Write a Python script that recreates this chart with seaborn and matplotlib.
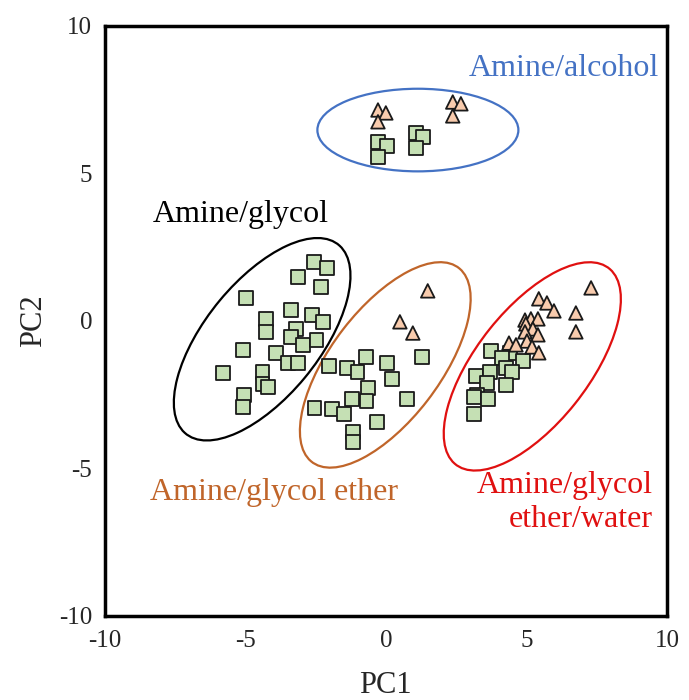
import numpy as np
import pandas as pd
import matplotlib
matplotlib.use("Agg")
import matplotlib.pyplot as plt
from matplotlib.patches import Ellipse
import seaborn as sns

# Squares / triangles (PC1, PC2), grouped by cluster
alcohol_sq_x = [-0.28, 0.04, -0.28, 1.07, 1.32, 1.07]
alcohol_sq_y = [6.07, 5.93, 5.56, 6.37, 6.24, 5.86]
alcohol_tri_x = [-0.28, 0.0, -0.28, 2.38, 2.67, 2.38]
alcohol_tri_y = [7.15, 7.05, 6.75, 7.42, 7.36, 6.95]

glycol_sq_x = [-2.56, -2.10, -3.13, -2.31, -4.98, -3.38, -2.63, -2.24, -4.27, -4.27, -3.20, -3.38,
               -2.95, -2.46, -5.09, -3.91, -3.49, -3.13, -5.80, -4.38, -4.38, -4.20, -5.05, -5.09]
glycol_sq_y = [2.00, 1.80, 1.49, 1.15, 0.78, 0.37, 0.20, -0.03, 0.07, -0.37, -0.27, -0.54,
               -0.81, -0.64, -0.98, -1.08, -1.42, -1.42, -1.76, -1.73, -2.14, -2.24, -2.51, -2.92]

ether_sq_x = [1.28, -0.71, 0.04, -2.03, -1.39, -1.00, 0.21, -0.64, -1.21, -0.68, 0.75, -2.53,
              -1.92, -1.49, -0.32, -1.17, -1.17]
ether_sq_y = [-1.22, -1.22, -1.42, -1.53, -1.59, -1.73, -1.97, -2.27, -2.64, -2.71, -2.64, -2.95,
              -2.98, -3.15, -3.42, -3.76, -4.10]
ether_tri_x = [1.49, 0.50, 0.96]
ether_tri_y = [1.02, -0.03, -0.41]

water_sq_x = [3.74, 4.41, 4.13, 4.88, 4.27, 4.48, 3.20, 3.70, 3.59, 4.27, 3.24, 3.13, 3.63, 3.13]
water_sq_y = [-1.02, -1.08, -1.25, -1.36, -1.59, -1.73, -1.86, -1.73, -2.10, -2.17, -2.51, -2.58,
              -2.64, -3.15]
water_tri_x = [7.30, 5.44, 5.73, 5.98, 6.76, 6.76, 4.95, 5.16, 5.41, 4.98, 5.23, 5.41, 4.95, 5.02,
               4.38, 4.63, 5.20, 5.44]
water_tri_y = [1.12, 0.75, 0.61, 0.34, 0.27, -0.37, 0.03, 0.07, 0.07, -0.10, -0.27, -0.47, -0.37,
               -0.68, -0.75, -0.81, -0.88, -1.08]

groups = ["Amine/alcohol", "Amine/glycol", "Amine/glycol ether", "Amine/glycol\nether/water"]
group_colors = ["#4472C4", "black", "#C0652A", "#E01010"]

sq_x = alcohol_sq_x + glycol_sq_x + ether_sq_x + water_sq_x
sq_y = alcohol_sq_y + glycol_sq_y + ether_sq_y + water_sq_y
tri_x = alcohol_tri_x + ether_tri_x + water_tri_x
tri_y = alcohol_tri_y + ether_tri_y + water_tri_y

df = pd.DataFrame({
    "PC1": sq_x + tri_x,
    "PC2": sq_y + tri_y,
    "shape": ["square"] * len(sq_x) + ["triangle"] * len(tri_x),
})

sns.set_style("white")
plt.rcParams["font.family"] = ["Liberation Serif", "DejaVu Serif"]
plt.rcParams["axes.unicode_minus"] = False

fig = plt.figure(figsize=(6.89, 7.00), dpi=100)
ax = fig.add_axes([0.152, 0.12, 0.816, 0.843])

sns.scatterplot(data=df, x="PC1", y="PC2", hue="shape", style="shape",
                markers={"square": "s", "triangle": "^"},
                palette={"square": "#C5E0B4", "triangle": "#F8CBAD"},
                s=95, edgecolor="#1a1a1a", linewidth=1.3, legend=False, ax=ax, zorder=3)

# cluster ellipses: centre, width, height, angle
ellipses = [((1.14, 6.47), 7.15, 2.8, 0),
            ((-4.40, -0.62), 8.4, 4.0, 49),
            ((-0.02, -1.49), 8.4, 3.85, 51),
            ((5.21, -1.54), 8.6, 3.95, 50)]
for (c, w, h, a), col in zip(ellipses, group_colors):
    ax.add_patch(Ellipse(c, w, h, angle=a, fill=False, edgecolor=col, lw=1.6, zorder=2))

label_pos = [(6.33, 8.54, "center"), (-5.16, 3.60, "center"), (-3.99, -5.80, "center"),
             (9.50, -6.15, "right")]
for name, col, (lx, ly, ha) in zip(groups, group_colors, label_pos):
    ax.text(lx, ly, name, color=col, fontsize=23, ha=ha, va="center",
            multialignment="right", linespacing=1.2)

ax.set_xlim(-10, 10)
ax.set_ylim(-10, 10)
ax.set_xticks([-10, -5, 0, 5, 10])
ax.set_yticks([-10, -5, 0, 5, 10])
ax.tick_params(direction="in", length=5, width=2, labelsize=18)
ax.tick_params(axis="x", pad=10)
ax.tick_params(axis="y", pad=9)
for sp in ax.spines.values():
    sp.set_linewidth(2.5)
    sp.set_color("black")
ax.set_xlabel("PC1", fontsize=22, labelpad=14)
ax.set_ylabel("PC2", fontsize=22, labelpad=8)

fig.savefig("out.png", dpi=100)
